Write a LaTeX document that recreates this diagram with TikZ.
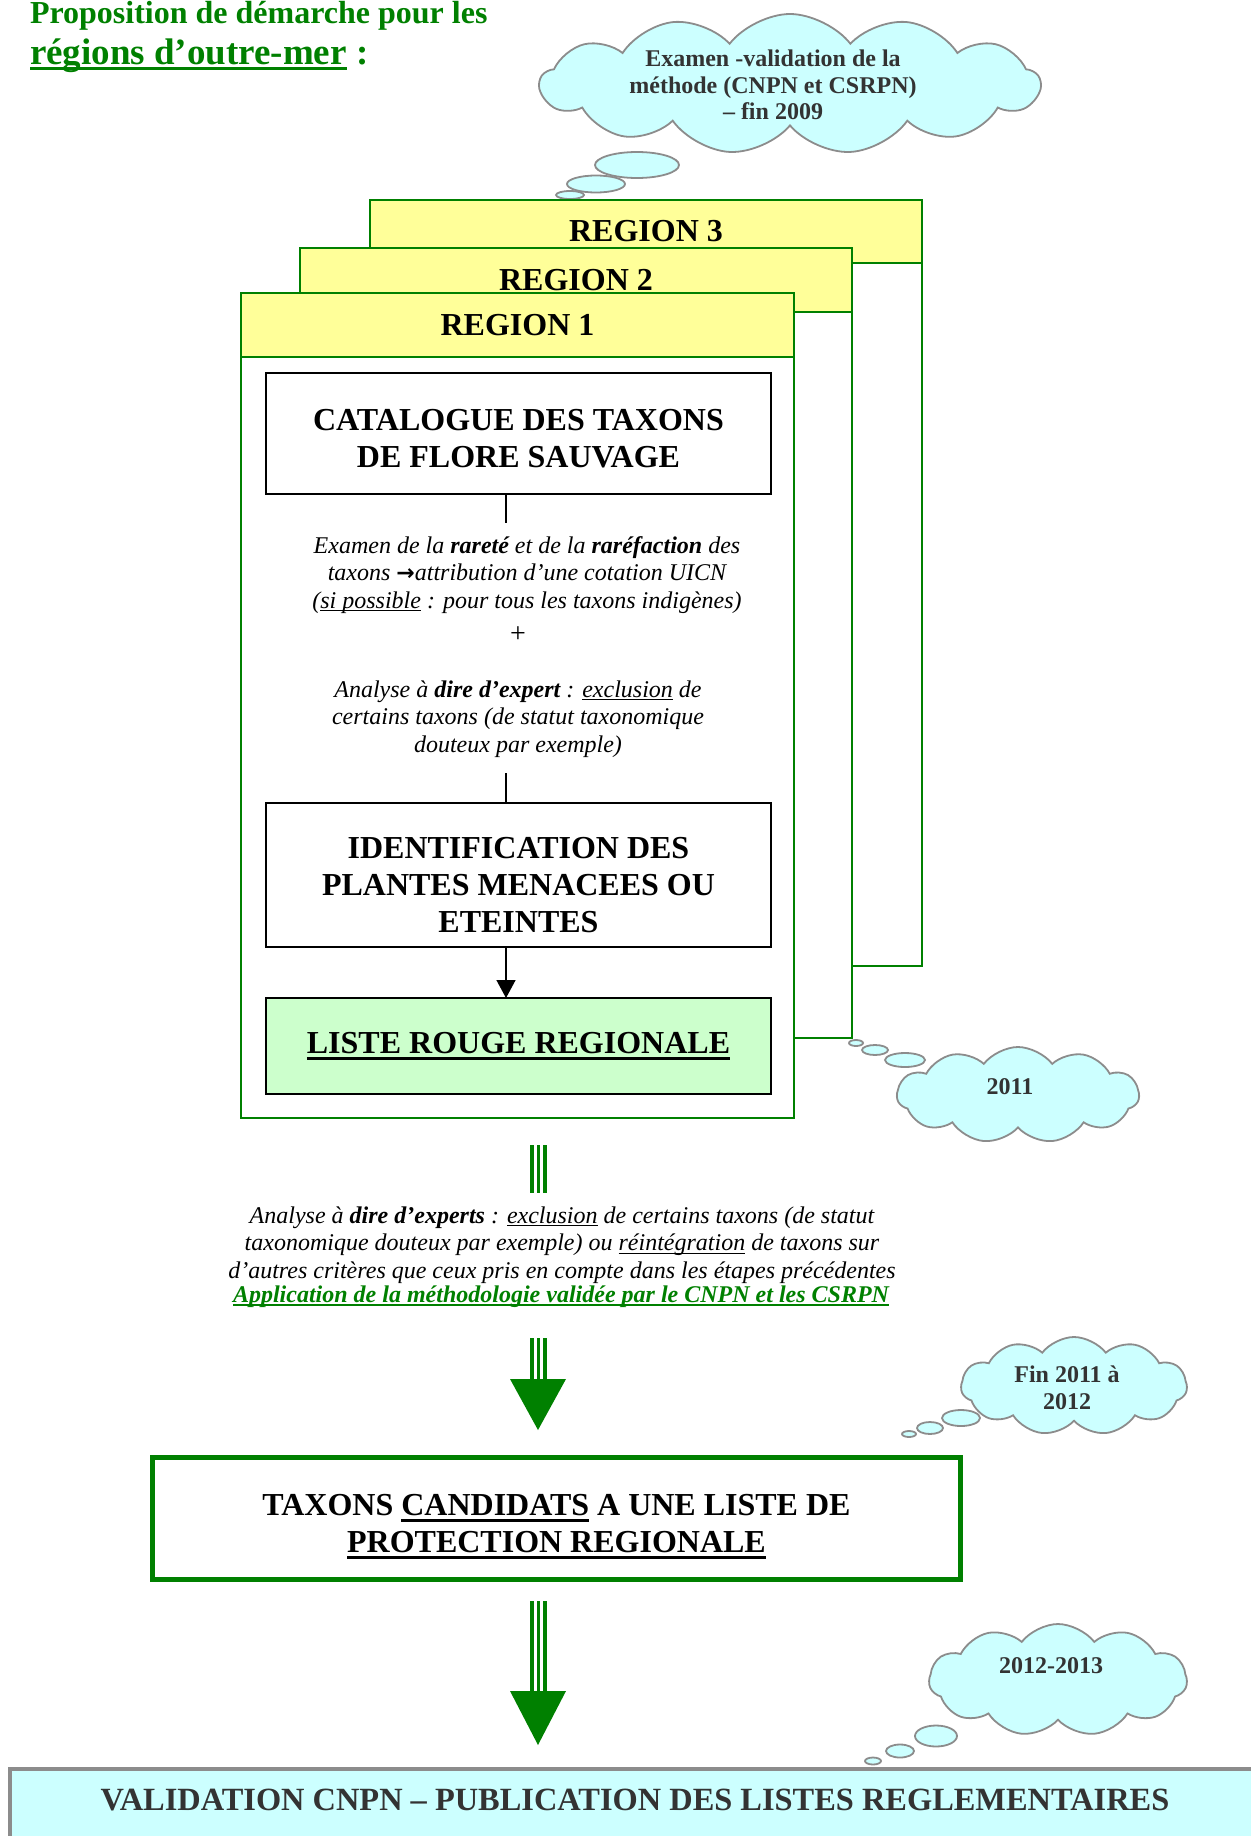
\documentclass[tikz,border=0pt]{standalone}
\usepackage{fontspec}
\setmainfont{Liberation Serif}
\newfontfamily\arrowfont{DejaVu Sans}
\usetikzlibrary{shapes.symbols,shapes.geometric,arrows.meta}
\definecolor{wgreen}{HTML}{008000}
\definecolor{hdr}{HTML}{FFFF99}
\definecolor{cloudfill}{HTML}{CCFFFF}
\definecolor{cloudline}{HTML}{8C8C8C}
\definecolor{listefill}{HTML}{CCFFCC}
\definecolor{dgray}{HTML}{333333}
\newcommand\fsz[2]{\fontsize{#1}{#2}\selectfont}
\newcommand\ulw[3]{\setbox0=\hbox{#3}\rlap{\rule[-#1]{\wd0}{#2}}\box0\relax}
\begin{document}
\begin{tikzpicture}[x=1pt,y=-1pt,
 every node/.style={inner sep=0pt,outer sep=0pt},
 regbox/.style={draw=wgreen,line width=2.5pt,fill=white,anchor=north west},
 reghdr/.style={draw=wgreen,line width=2.5pt,fill=hdr,anchor=north west,font=\bfseries\fsz{32}{37}},
 stepbox/.style={draw=black,line width=2pt,fill=white,minimum width=505pt,align=center,font=\bfseries\fsz{32}{37}},
 itxt/.style={align=center,font=\itshape\fsz{24}{27.5}},
 cloudnode/.style={cloud,cloud puffs=13,cloud puff arc=105,cloud ignores aspect,draw=cloudline,line width=1.8pt,fill=cloudfill},
 ctext/.style={align=center,text=dgray,font=\bfseries\fsz{24}{26.5}},
 bubble/.style={ellipse,draw=cloudline,line width=1.8pt,fill=cloudfill},
 gline/.style={draw=wgreen,line width=3.2pt},
 ghead/.style={fill=wgreen},
 conn/.style={draw=black,line width=1.5pt}
]
\useasboundingbox (0,0) rectangle (1250,1836);

% title
\node[anchor=base west,text=wgreen,font=\bfseries\fsz{32}{37}] (title1) at (30,24) {Proposition de démarche pour les};
\node[anchor=base west,text=wgreen,font=\bfseries\fsz{37}{42}] (title2) at (30,65) {\ulw{5pt}{2.5pt}{régions d’outre-mer} :};

% cloud 1
\node[cloudnode,minimum width=500pt,minimum height=140pt] (cl1) at (790,84) {};
\node[ctext] (cl1t) at (773,85) {Examen -validation de la\\méthode (CNPN et CSRPN)\\– fin 2009};
\node[bubble,minimum width=84pt,minimum height=26pt] (b11) at (637,165) {};
\node[bubble,minimum width=58pt,minimum height=17pt] (b12) at (596,184) {};
\node[bubble,minimum width=28pt,minimum height=8pt] (b13) at (570,195) {};

% regions
\node[regbox,minimum width=552pt,minimum height=766pt] (r3) at (370,200) {};
\node[reghdr,minimum width=552pt,minimum height=63pt] (r3h) at (370,200) {REGION 3};
\node[regbox,minimum width=552pt,minimum height=790pt] (r2) at (300,248) {};
\node[reghdr,minimum width=552pt,minimum height=64pt] (r2h) at (300,248) {REGION 2};
\node[regbox,minimum width=553pt,minimum height=825pt] (r1) at (241,293) {};
\node[reghdr,minimum width=553pt,minimum height=64pt] (r1h) at (241,293) {REGION 1};

% steps
\node[stepbox,minimum height=121pt] (cat) at (518.5,433.5) {\rule{0pt}{31pt}CATALOGUE DES TAXONS\\DE FLORE SAUVAGE};
\node[itxt] (p1) at (527,575) {Examen de la \textbf{rareté} et de la \textbf{raréfaction} des\\taxons {\upshape\arrowfont\bfseries\fsz{22}{27.5}→}attribution d’une cotation UICN\\(\ulw{3pt}{1.2pt}{si possible} : pour tous les taxons indigènes)};
\node[font=\fsz{28}{30}] (plus) at (518,635) {+};
\node[itxt] (p2) at (518,719) {Analyse à \textbf{dire d’expert} : \ulw{3pt}{1.2pt}{exclusion} de\\certains taxons (de statut taxonomique\\douteux par exemple)};
\node[stepbox,minimum height=144pt] (ident) at (518.5,875) {\rule{0pt}{41pt}IDENTIFICATION DES\\PLANTES MENACEES OU\\ETEINTES};
\node[stepbox,fill=listefill,minimum height=96pt] (liste) at (518.5,1046) {\ulw{6pt}{3pt}{LISTE ROUGE REGIONALE}};

\coordinate (c1) at (506,523);
\draw[conn] (cat.south -| c1) -- (c1);
\coordinate (c2) at (506,773);
\draw[conn] (c2) -- (c2 |- ident.north);
\draw[conn,-{Triangle[length=18pt,width=19pt]}] (ident.south -| c2) -- (liste.north -| c2);

% cloud 2011
\node[cloudnode,cloud puffs=11,minimum width=242pt,minimum height=96pt] (cl2) at (1018,1095) {};
\node[ctext] (cl2t) at (1010,1087) {2011};
\node[bubble,minimum width=40pt,minimum height=14pt] (b21) at (905,1060) {};
\node[bubble,minimum width=26pt,minimum height=10pt] (b22) at (875,1050) {};
\node[bubble,minimum width=14pt,minimum height=6pt] (b23) at (856,1043) {};

% triple line 1
\foreach \x in {532,538.5,545} \draw[gline] (\x,1145) -- (\x,1193);

% paragraph 3
\node[itxt] (p3) at (562,1245) {Analyse à \textbf{dire d’experts} : \ulw{3pt}{1.2pt}{exclusion} de certains taxons (de statut\\taxonomique douteux par exemple) ou \ulw{3pt}{1.2pt}{réintégration} de taxons sur\\d’autres critères que ceux pris en compte dans les étapes précédentes};
\node[text=wgreen,font=\bfseries\itshape\fsz{24}{27.5}] (p4) at (561,1297) {\ulw{3.5pt}{1.8pt}{Application de la méthodologie validée par le CNPN et les CSRPN}};

% green arrow 1
\foreach \x in {532,538.5,545} \draw[gline] (\x,1338) -- (\x,1381);
\fill[ghead] (510,1379) -- (566,1379) -- (538,1430) -- cycle;

% cloud fin 2011
\node[cloudnode,cloud puffs=11,minimum width=226pt,minimum height=98pt] (cl3) at (1074,1386) {};
\node[ctext] (cl3t) at (1067,1388) {Fin 2011 à\\2012};
\node[bubble,minimum width=38pt,minimum height=16pt] (b31) at (961,1418) {};
\node[bubble,minimum width=26pt,minimum height=12pt] (b32) at (930,1428) {};
\node[bubble,minimum width=14pt,minimum height=6pt] (b33) at (909,1434) {};

% candidates box
\node[draw=wgreen,line width=5pt,fill=white,minimum width=808pt,minimum height=122pt,align=center,font=\bfseries\fsz{32}{37}] (cand) at (556.5,1518.5) {\rule{0pt}{37pt}TAXONS \ulw{6pt}{3pt}{CANDIDATS} A UNE LISTE DE\\\ulw{6pt}{3pt}{PROTECTION REGIONALE}};

% green arrow 2
\foreach \x in {532,538.5,545} \draw[gline] (\x,1601) -- (\x,1693);
\fill[ghead] (510,1691) -- (566,1691) -- (538,1745) -- cycle;

% cloud 2012-2013
\node[cloudnode,cloud puffs=11,minimum width=258pt,minimum height=112pt] (cl4) at (1058,1680) {};
\node[ctext] (cl4t) at (1051,1666) {2012-2013};
\node[bubble,minimum width=42pt,minimum height=21pt] (b41) at (936,1736) {};
\node[bubble,minimum width=28pt,minimum height=13pt] (b42) at (900,1751) {};
\node[bubble,minimum width=16pt,minimum height=7pt] (b43) at (873,1761) {};

% bottom box
\node[draw=cloudline,line width=4pt,fill=cloudfill,anchor=north west,minimum width=1400pt,minimum height=200pt] (valid) at (10,1769) {};
\node[text=dgray,font=\bfseries\fsz{32.4}{37}] (validt) at (635,1800) {VALIDATION CNPN – PUBLICATION DES LISTES REGLEMENTAIRES};
\end{tikzpicture}
\end{document}
